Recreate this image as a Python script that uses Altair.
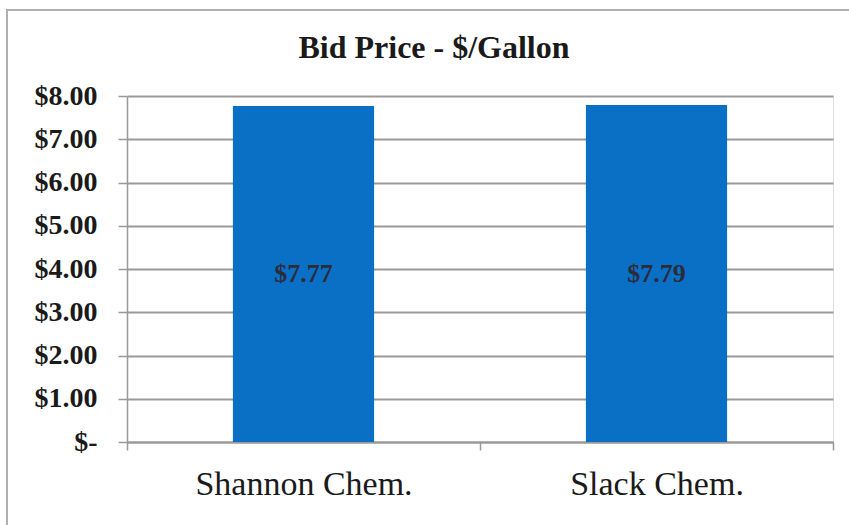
import altair as alt
import pandas as pd

companies = ["Shannon Chem.", "Slack Chem."]
prices = [7.77, 7.79]
price_labels = ["$7.77", "$7.79"]

df = pd.DataFrame({"company": companies, "price": prices, "label": price_labels})
df["half"] = df["price"] / 2

x_enc = alt.X("company:N", sort=companies, title=None,
              scale=alt.Scale(paddingInner=0, paddingOuter=0),
              axis=alt.Axis(labelAngle=0, labelFont="Liberation Serif", labelFontSize=34,
                            labelLimit=0,
                            labelColor="#1a1a1a", labelPadding=17, tickBand="extent",
                            tickSize=8, tickColor="#999999", domainColor="#999999",
                            domainWidth=2, tickWidth=1.5, grid=False))

bars = alt.Chart(df).mark_bar(color="#0A70C6", width={"band": 0.4}).encode(
    x=x_enc,
    y=alt.Y("price:Q", title=None,
            scale=alt.Scale(domain=[0, 8], nice=False),
            axis=alt.Axis(values=[0, 1, 2, 3, 4, 5, 6, 7, 8],
                          labelExpr="datum.value == 0 ? '$-\u00a0\u00a0' : '$' + format(datum.value, '.2f')",
                          labelFont="Liberation Serif", labelFontSize=28, labelFontWeight="bold",
                          labelColor="#1a1a1a", labelPadding=21, tickSize=9,
                          tickColor="#999999", domainColor="#999999", domainWidth=1.5,
                          gridColor="#999999", gridWidth=2, tickWidth=1.5)),
)

text = alt.Chart(df).mark_text(font="Liberation Serif", fontSize=26, fontWeight="bold",
                               color="#2b2b3a").encode(
    x=alt.X("company:N", sort=companies),
    y=alt.Y("half:Q"),
    text="label:N",
)

border = alt.Chart(df).mark_rect(fill=None, stroke="#b0b0b0", strokeWidth=2).encode(
    x=alt.value(-120), x2=alt.value(760), y=alt.value(-86), y2=alt.value(450)
)

chart = alt.layer(border, bars, text).properties(
    width=706, height=346,
    title=alt.Title("Bid Price - $/Gallon", font="Liberation Serif", fontSize=32,
                    fontWeight="bold", color="#1a1a1a", offset=-56, anchor="middle",
                    frame="group", dx=-46),
    autosize=alt.AutoSizeParams(type="none"),
    padding={"left": 127, "top": 96, "right": 16, "bottom": 83},
).configure_view(stroke=None).configure(background="white")

chart.save("out.html", embed_options={"renderer": "svg", "actions": False})
